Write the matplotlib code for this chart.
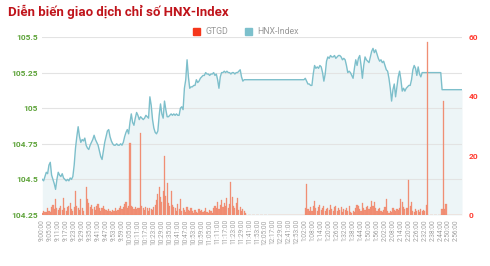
import matplotlib
matplotlib.use("Agg")
import matplotlib.pyplot as plt
from matplotlib.patches import Patch

# ---------------- data ----------------
title = "Diễn biến giao dịch chỉ số HNX-Index"
series_names = ["GTGD", "HNX-Index"]

tick_labels = [
    "9:00:00", "9:05:00", "9:11:00", "9:17:00", "9:23:00", "9:29:00", "9:35:00",
    "9:41:00", "9:47:00", "9:53:00", "9:59:00", "10:05:00", "10:11:00", "10:17:00",
    "10:23:00", "10:29:00", "10:35:00", "10:41:00", "10:47:00", "10:53:00", "10:59:00",
    "11:05:00", "11:11:00", "11:17:00", "11:23:00", "11:29:00", "11:41:00", "11:53:00",
    "12:05:00", "12:17:00", "12:29:00", "12:41:00", "12:53:00", "1:02:00", "1:08:00",
    "1:14:00", "1:20:00", "1:26:00", "1:32:00", "1:38:00", "1:44:00", "1:50:00",
    "1:56:00", "2:02:00", "2:08:00", "2:14:00", "2:20:00", "2:26:00", "2:32:00",
    "2:38:00", "2:44:00", "2:50:00", "2:56:00",
]

hnx = [
    104.50, 104.49, 104.52, 104.55, 104.54, 104.60, 104.62, 104.53, 104.50, 104.47,
    104.43, 104.50, 104.55, 104.53, 104.52, 104.54, 104.51, 104.50, 104.49, 104.50,
    104.49, 104.51, 104.50, 104.52, 104.60, 104.72, 104.80, 104.87, 104.80, 104.76,
    104.78, 104.77, 104.79, 104.74, 104.72, 104.71, 104.74, 104.76, 104.78, 104.81,
    104.78, 104.76, 104.74, 104.70, 104.66, 104.64, 104.70, 104.76, 104.80, 104.84,
    104.85, 104.80, 104.77, 104.75, 104.74, 104.74, 104.75, 104.74, 104.74, 104.75,
    104.74, 104.76, 104.80, 104.83, 104.85, 104.82, 104.90, 104.96, 104.90, 104.88,
    104.93, 104.97, 104.95, 104.92, 104.94, 104.93, 104.92, 104.93, 104.95, 104.94,
    104.93, 105.08, 105.02, 104.92, 104.86, 104.83, 104.82, 104.84, 104.95, 105.03,
    104.96, 104.93, 105.05, 104.99, 104.94, 104.94, 104.95, 104.96, 104.95, 104.96,
    104.95, 104.96, 104.95, 104.95, 105.00, 105.01, 104.99, 105.14, 105.20, 105.34,
    105.22, 105.14, 105.15, 105.15, 105.16, 105.16, 105.20, 105.18, 105.19, 105.21,
    105.22, 105.23, 105.23, 105.25, 105.24, 105.24, 105.23, 105.24, 105.24, 105.25,
    105.23, 105.24, 105.20, 105.14, 105.22, 105.25, 105.25, 105.26, 105.25, 105.26,
    105.25, 105.25, 105.24, 105.25, 105.25, 105.24, 105.25, 105.25, 105.26, 105.27,
    105.22, 105.19, 105.20, 105.20, 105.20, 105.20, 105.20, 105.20, 105.20, 105.20,
    105.20, 105.20, 105.20, 105.20, 105.20, 105.20, 105.20, 105.20, 105.20, 105.20,
    105.20, 105.20, 105.20, 105.20, 105.20, 105.20, 105.20, 105.20, 105.20, 105.20,
    105.20, 105.20, 105.20, 105.20, 105.20, 105.20, 105.20, 105.20, 105.20, 105.20,
    105.20, 105.20, 105.20, 105.20, 105.20, 105.20, 105.20, 105.20, 105.21, 105.19,
    105.17, 105.17, 105.16, 105.16, 105.24, 105.30, 105.28, 105.29, 105.28, 105.30,
    105.29, 105.25, 105.19, 105.24, 105.33, 105.36, 105.35, 105.37, 105.36, 105.36,
    105.37, 105.35, 105.36, 105.37, 105.37, 105.36, 105.34, 105.35, 105.34, 105.30,
    105.25, 105.26, 105.25, 105.23, 105.21, 105.28, 105.34, 105.30, 105.35, 105.37,
    105.30, 105.21, 105.30, 105.36, 105.34, 105.33, 105.32, 105.36, 105.40, 105.42,
    105.39, 105.41, 105.38, 105.35, 105.33, 105.34, 105.32, 105.33, 105.30, 105.27,
    105.26, 105.21, 105.14, 105.05, 105.13, 105.17, 105.08, 105.15, 105.22, 105.26,
    105.20, 105.12, 105.14, 105.12, 105.14, 105.15, 105.16, 105.16, 105.20, 105.27,
    105.30, 105.28, 105.23, 105.29, 105.24, 105.22, 105.25, 105.25, 105.25, 105.25,
    105.25, 105.25, 105.25, 105.25, 105.25, 105.25, 105.25, 105.25, 105.25, 105.25,
    105.25, 105.13, 105.13, 105.13, 105.13, 105.13, 105.13, 105.13, 105.13, 105.13,
    105.13, 105.13, 105.13, 105.13, 105.13, 105.13, 105.13,
]

gtgd = [
    0.8, 1.2, 1.0, 0.9, 2.5, 1.5, 1.0, 2.8, 3.5, 2.0,
    5.3, 2.2, 1.8, 2.5, 3.0, 1.6, 5.6, 2.4, 1.5, 2.8,
    3.2, 4.1, 2.0, 1.4, 2.6, 8.1, 3.0, 2.2, 1.8, 5.3,
    2.4, 1.5, 0.0, 9.3, 5.5, 4.0, 2.8, 3.5, 2.0, 2.6,
    1.8, 2.9, 3.6, 2.2, 1.5, 2.4, 3.0, 2.1, 1.6, 1.2,
    2.0, 1.4, 0.9, 1.8, 1.2, 2.2, 1.5, 1.8, 2.5, 3.1,
    2.0, 2.8, 3.6, 4.5, 2.5, 3.0, 24.4, 3.2, 2.6, 2.0,
    2.8, 1.9, 2.5, 2.2, 27.5, 3.0, 2.4, 1.8, 2.6, 2.2,
    1.5, 2.4, 2.0, 1.6, 2.8, 3.4, 5.0, 7.0, 9.5, 6.0,
    4.5, 8.0, 19.8, 6.5, 10.9, 4.2, 3.0, 8.1, 3.5, 2.8,
    2.2, 1.5, 3.6, 2.0, 5.3, 1.2, 2.5, 1.6, 1.0, 2.8,
    1.8, 1.2, 2.5, 1.4, 0.8, 1.6, 1.1, 0.7, 2.0, 1.3,
    1.6, 0.9, 1.5, 2.4, 1.0, 0.8, 1.8, 1.2, 0.6, 2.2,
    3.0, 2.4, 4.5, 2.0, 3.5, 5.1, 2.6, 4.2, 3.0, 5.6,
    2.5, 3.8, 11.2, 6.0, 3.2, 2.5, 4.0, 5.6, 1.8, 2.6,
    1.5, 2.0, 1.2, 0.8, 0.0, 0.0, 0.0, 0.0, 0.0, 0.0,
    0.0, 0.0, 0.0, 0.0, 0.0, 0.0, 0.0, 0.0, 0.0, 0.0,
    0.0, 0.0, 0.0, 0.0, 0.0, 0.0, 0.0, 0.0, 0.0, 0.0,
    0.0, 0.0, 0.0, 0.0, 0.0, 0.0, 0.0, 0.0, 0.0, 0.0,
    0.0, 0.0, 0.0, 0.0, 0.0, 0.0, 0.0, 0.0, 2.5, 10.4,
    2.0, 1.2, 2.8, 1.5, 3.2, 4.6, 2.2, 1.4, 2.6, 3.5,
    1.8, 2.4, 3.0, 1.2, 2.0, 2.5, 1.6, 3.3, 2.0, 1.5,
    2.8, 3.0, 1.4, 2.2, 1.8, 2.6, 1.0, 2.0, 1.6, 2.4,
    1.3, 2.9, 1.1, 0.8, 1.5, 1.0, 2.2, 3.4, 3.0, 2.0,
    1.5, 4.1, 2.5, 1.8, 2.6, 3.2, 2.0, 2.8, 4.7, 3.0,
    4.4, 2.2, 1.2, 2.0, 2.5, 1.4, 0.9, 1.8, 2.6, 5.3,
    1.2, 0.8, 1.5, 1.0, 2.2, 1.8, 1.4, 2.0, 1.6, 2.4,
    5.3, 4.4, 2.8, 2.0, 2.5, 2.2, 11.8, 3.0, 4.4, 1.5,
    1.0, 2.0, 1.2, 1.8, 1.0, 2.0, 1.4, 1.8, 1.2, 3.4,
    58.4, 0.0, 0.0, 0.0, 0.0, 0.0, 0.0, 0.0, 0.0, 0.0,
    0.0, 2.0, 38.4, 2.0, 3.7, 0.0, 0.0, 0.0, 0.0, 0.0,
    0.0, 0.0, 0.0, 0.0, 0.0, 0.0, 0.0,
]

left_ticks = [104.25, 104.5, 104.75, 105, 105.25, 105.5]
left_tick_labels = ["104.25", "104.5", "104.75", "105", "105.25", "105.5"]
right_ticks = [0, 20, 40, 60]
right_tick_labels = ["0", "20", "40", "60"]

# ---------------- style ----------------
plt.rcParams["font.family"] = ["Roboto", "DejaVu Sans"]

W, H = 490, 266
fig = plt.figure(figsize=(W / 100, H / 100), dpi=100)
x0, x1, y0, y1 = 42.3, 462, 37, 215
ax = fig.add_axes([x0 / W, 1 - y1 / H, (x1 - x0) / W, (y1 - y0) / H])

xs = list(range(len(hnx)))
ax.fill_between(xs, hnx, left_ticks[0], color="#edf5f7", lw=0, zorder=1)
ax.plot(xs, hnx, color="#7dbfcb", lw=1.0, zorder=3)
ax.set_xlim(0, len(hnx) - 1)
ax.set_ylim(left_ticks[0], left_ticks[-1])
ax.set_yticks(left_ticks)
ax.set_yticklabels(left_tick_labels, color="#5ea33a", fontsize=6, fontweight="bold")
ax.set_xticks(xs[::6])
ax.set_xticklabels(tick_labels, rotation=90, fontsize=4.7, color="#a0a0a0")
ax.tick_params(axis="both", length=0)
ax.tick_params(axis="y", pad=3)
ax.tick_params(axis="x", pad=3)
ax.grid(axis="y", color="#e3e3e3", lw=0.8, zorder=1.5)
for s in ax.spines.values():
    s.set_visible(False)

ax2 = ax.twinx()
ax2.bar(xs, gtgd, width=0.88, color="#f2937a", edgecolor="#ee8466", lw=0.2, zorder=2)
ax2.set_ylim(right_ticks[0], right_ticks[-1])
ax2.set_yticks(right_ticks)
ax2.set_yticklabels(right_tick_labels, color="#ff3b30", fontsize=6, fontweight="bold")
ax2.tick_params(axis="y", length=0, pad=5)
for s in ax2.spines.values():
    s.set_visible(False)

fig.text(8 / W, 1 - 12 / H, title, fontsize=9.5, fontweight="bold",
         color="#c0141b", va="center", ha="left")

handles = [Patch(color="#f5361b", label=series_names[0]),
           Patch(color="#7cc0cc", label=series_names[1])]
fig.legend(handles=handles, loc="center", bbox_to_anchor=(246 / W, 1 - 32 / H),
           ncol=2, frameon=False, fontsize=6.3, labelcolor="#999999",
           handlelength=0.8, handleheight=0.8, handletextpad=0.6,
           columnspacing=2.0, borderpad=0)

fig.savefig("out.png", dpi=100)
